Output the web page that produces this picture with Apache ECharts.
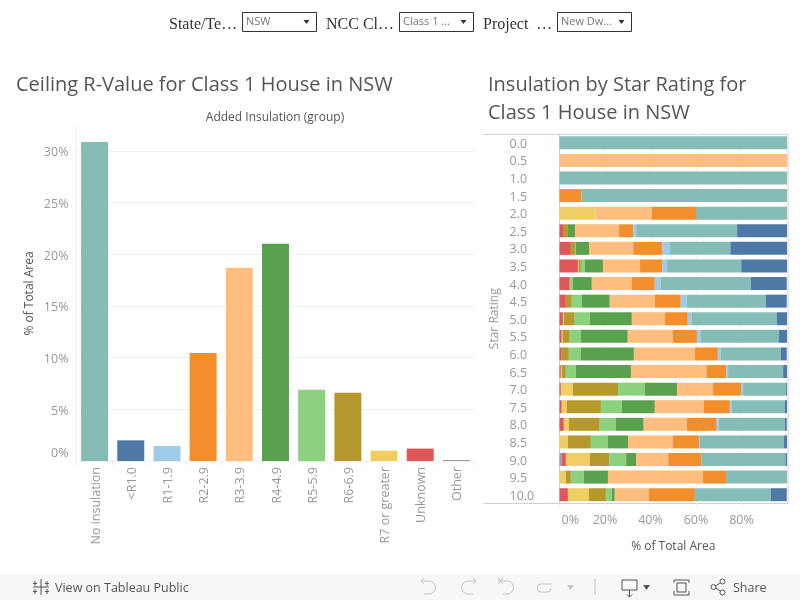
<!DOCTYPE html>
<html><head><meta charset="utf-8">
<style>html,body{margin:0;padding:0;background:#fff}#c{width:800px;height:600px}</style>
<script src="https://cdn.jsdelivr.net/npm/echarts@6/dist/echarts.min.js"></script>
</head><body><div id="c"></div>
<script>
const groups = ['No insulation','<R1.0','R1-1.9','R2-2.9','R3-3.9','R4-4.9','R5-5.9','R6-6.9','R7 or greater','Unknown','Other'];
const groupValues = [30.85,2.0,1.45,10.45,18.7,21.0,6.9,6.6,1.0,1.2,0.1];
const groupColors = ['#86BCB6','#4E79A7','#A0CBE8','#F28E2B','#FFBE7D','#59A14F','#8CD17D','#B6992D','#F1CE63','#E15759','#9D9D9D'];
const ratings = ['0.0','0.5','1.0','1.5','2.0','2.5','3.0','3.5','4.0','4.5','5.0','5.5','6.0','6.5','7.0','7.5','8.0','8.5','9.0','9.5','10.0'];
const other   = [0,0,0,0,0,0,0,0,0,0,0,0,0,0,0,0,0,0,1.0,0,0];
const unknown = [0,0,0,0,0,1.9,5.0,8.1,4.5,2.8,1.5,1.0,1.0,0.6,0.6,1.0,1.9,0,1.8,0,3.7];
const r7      = [0,0,0,0,15.8,0,0,0.3,0,0,0.4,0.4,0,0.4,5.3,2.2,2.2,3.7,10.6,2.8,9.2];
const r6      = [0,0,0,0,0,1.8,1.8,1.0,0.4,2.6,4.8,3.1,3.1,1.8,19.8,15,13.6,10.1,8.4,2.2,7.5];
const r5      = [0,0,0,0,0,0,0.3,1.8,0.9,4.4,6.6,4.8,5.3,4.4,11.9,9.2,7,7.5,7.5,5.7,2.6];
const r4      = [0,0,0,0,0,3.1,5.9,7.9,8.4,12.3,18.5,20.7,23.3,24.2,14.1,14.5,12.3,8.8,4.4,10.6,1.3];
const r3      = [0,100,0,0,24.8,19.4,19.4,16.3,17.6,19.8,14.5,19.8,26.8,33.4,15.8,21.6,18.9,19.8,14.1,41.8,15];
const r2      = [0,0,0,9.7,19.4,6.2,12.8,9.7,10.1,11.4,10.1,10.6,10.1,8.4,12.3,11.4,13.2,11.4,14.5,10.1,20.2];
const r1      = [0,0,0,0,0,1.3,3.1,2.2,2.6,2.6,1.8,1.8,1.3,0.9,0.9,0.9,0.9,0.4,0,0,0];
const noIns   = [100,0,100,90.3,40,44.4,26.8,32.6,39.6,34.8,37.4,34.3,26.4,24.2,18.9,23.3,29,37,37,26.8,33.4];
const ltR1    = [0,0,0,0,0,22,25.1,20.2,15.8,9.2,4.4,3.5,2.6,1.8,0.4,0.9,0.9,1.3,0.9,0,7];
const stack = [['Other',other,'#9D9D9D'],['Unknown',unknown,'#E15759'],['R7 or greater',r7,'#F1CE63'],['R6-6.9',r6,'#B6992D'],['R5-5.9',r5,'#8CD17D'],['R4-4.9',r4,'#59A14F'],['R3-3.9',r3,'#FFBE7D'],['R2-2.9',r2,'#F28E2B'],['R1-1.9',r1,'#A0CBE8'],['No insulation',noIns,'#86BCB6'],['<R1.0',ltR1,'#4E79A7']];

const F='"Open Sans"', LBL='#989898', HEAD='#555', GRID='#f0f0f0', RULE='#d0d0d0';
const txt=(x,y,t,size,color,family,extra)=>({type:'text',x,y,style:Object.assign({text:t,fontSize:size,fill:color,fontFamily:family||F,verticalAlign:'middle'},extra||{}),silent:true});
const line=(x1,y1,x2,y2,c,w)=>({type:'line',shape:{x1,y1,x2,y2},style:{stroke:c,lineWidth:w||1},silent:true});
const poly=(pts,c)=>({type:'polyline',shape:{points:pts},style:{stroke:c,fill:'none',lineWidth:1},silent:true});
const arc=(cx,cy,r,a,b,c)=>({type:'arc',shape:{cx,cy,r,startAngle:a,endAngle:b,clockwise:true},style:{stroke:c,fill:'none',lineWidth:1},silent:true});
const ring=(cx,cy,r,c)=>({type:'circle',shape:{cx,cy,r},style:{stroke:c,fill:'#f7f7f7',lineWidth:1},silent:true,z:2});
const dropdown=(x,w,t)=>[
  {type:'rect',shape:{x:x+.5,y:12.5,width:w,height:19},style:{fill:'#fff',stroke:'#333',lineWidth:1},silent:true},
  txt(x+4,22,t,11,'#777'),
  {type:'polygon',shape:{points:[[x+w-12.5,20],[x+w-6.5,20],[x+w-9.5,24]]},style:{fill:'#333'},silent:true}
];
const G='#c4c4c4', D='#555', H=Math.PI/2;
const gfx=[
  txt(169,25,'State/Te…',16,'#333','"Liberation Serif"'),
  txt(326,25,'NCC Cl…',16,'#333','"Liberation Serif"'),
  txt(483,25,'Project  …',16,'#333','"Liberation Serif"'),
  ...dropdown(242,74,'NSW'),...dropdown(399,74,'Class 1 ...'),...dropdown(557,74,'New Dw...'),
  txt(16,85,'Ceiling R-Value for Class 1 House in NSW',20,HEAD),
  txt(488,85,'Insulation by Star Rating for',20,HEAD),
  txt(488,113,'Class 1 House in NSW',20,HEAD),
  txt(275,118,'Added Insulation (group)',12,HEAD,F,{align:'center'}),
  line(483,134.5,788,134.5,RULE),
  line(483,503.5,788,503.5,RULE),
  line(788,134,788,503,RULE),
  {type:'rect',z:-1,shape:{x:0,y:574,width:800,height:26},style:{fill:'#f7f7f7'},silent:true},
  line(41,579,41,595,D),line(33,587,49,587,D),line(35,581,35,586,D),line(33,583.5,37,583.5,D),
  line(47,581,47,586,D),line(45,583.5,49,583.5,D),line(35,589,35,594,D),line(33,591.5,37,591.5,D),
  line(47,589,47,594,D),line(45,591.5,49,591.5,D),
  txt(55,588,'View on Tableau Public',12.5,D),
  poly([[424,578],[421,581],[424,584]],G),poly([[421,581],[429,581]],G),arc(429,587.5,6.5,-H,H,G),poly([[429,594],[424,594]],G),
  poly([[473,578],[476,581],[473,584]],G),poly([[476,581],[468,581]],G),arc(468,587.5,6.5,H,3*H,G),poly([[468,594],[473,594]],G),
  poly([[503,578],[500,581],[503,584]],G),poly([[500,581],[507,581]],G),arc(507,587.5,6.5,-H,H,G),poly([[507,594],[503,594]],G),line(499,578,499,584,G),
  poly([[552,584],[541,584]],G),arc(541,588,4,H,3*H,G),poly([[541,592],[547,592]],G),arc(547,588,4,0,H,G),
  {type:'polygon',shape:{points:[[567,585],[574,585],[570.5,590]]},style:{fill:G},silent:true},
  line(595,579,595,595,G),
  poly([[622,580],[637,580],[637,590],[622,590],[622,580]],D),line(629.5,590,629.5,597,D),poly([[627,594.5],[629.5,597],[632,594.5]],D),
  {type:'polygon',shape:{points:[[643,585],[650,585],[646.5,590]]},style:{fill:D},silent:true},
  poly([[674,583],[674,580],[689,580],[689,583]],D),poly([[674,591],[674,595],[689,595],[689,591]],D),
  poly([[677,583],[686,583],[686,592],[677,592],[677,583]],D),
  line(714,587,722,582,D),line(714,587,722,592,D),ring(713.5,587,2.5,D),ring(722.5,581.5,2.5,D),ring(722.5,592.5,2.5,D),
  txt(733,588,'Share',12.5,D)
];

const chart=echarts.init(document.getElementById('c'),null,{renderer:'canvas'});
chart.setOption({
  animation:false,
  backgroundColor:'#fff',
  grid:[
    {left:76.5,top:126,width:398,height:335,containLabel:false},
    {left:559.5,top:134,width:227.5,height:369.5,containLabel:false}
  ],
  xAxis:[
    {gridIndex:0,type:'category',data:groups,
     axisLine:{lineStyle:{color:GRID}},axisTick:{show:true,lineStyle:{color:GRID},length:5},
     axisLabel:{rotate:90,interval:0,color:LBL,fontFamily:F,fontSize:12.5,margin:6,verticalAlign:'top',lineHeight:3}},
    {gridIndex:1,type:'value',min:0,max:100,interval:20,
     name:'% of Total Area',nameLocation:'middle',nameGap:37,nameTextStyle:{color:HEAD,fontFamily:F,fontSize:12},
     axisLine:{show:false},axisTick:{show:true,lineStyle:{color:GRID},length:4},
     splitLine:{show:true,lineStyle:{color:GRID},showMinLine:false,showMaxLine:false},
     axisLabel:{color:LBL,fontFamily:F,fontSize:12.5,margin:10,
       formatter:v=>v===0?'{m|0%}':v+'%',
       rich:{m:{color:LBL,fontFamily:F,fontSize:12.5,padding:[0,0,0,2]}},
       showMaxLabel:false,alignMinLabel:'left'}}
  ],
  yAxis:[
    {gridIndex:0,type:'value',min:0,max:32.4,interval:5,
     name:'% of Total Area',nameLocation:'middle',nameGap:41,nameTextStyle:{color:HEAD,fontFamily:F,fontSize:12},
     axisLine:{show:true,lineStyle:{color:GRID}},axisTick:{show:false},
     splitLine:{show:true,lineStyle:{color:GRID},showMaxLine:false},
     axisLabel:{color:LBL,fontFamily:F,fontSize:12.5,margin:8,
       verticalAlign:'top',lineHeight:4,
       formatter:v=>v===0?'{z|0%}':v+'%',
       rich:{z:{color:LBL,fontFamily:F,fontSize:12.5,lineHeight:16}},
       showMaxLabel:false,verticalAlignMinLabel:'bottom'}},
    {gridIndex:1,type:'category',inverse:true,data:ratings,
     name:'Star Rating',nameLocation:'middle',nameGap:59,nameTextStyle:{color:LBL,fontFamily:F,fontSize:12},
     axisLine:{show:true,lineStyle:{color:RULE}},axisTick:{show:false},
     axisLabel:{interval:0,color:LBL,fontFamily:F,fontSize:12.5,margin:50,align:'left',verticalAlign:'top',lineHeight:3}}
  ],
  series:[
    {type:'bar',xAxisIndex:0,yAxisIndex:0,barWidth:27,
     data:groupValues.map((v,i)=>({value:v,itemStyle:{color:groupColors[i]}}))},
    ...stack.map(([name,data,color])=>({type:'bar',name,xAxisIndex:1,yAxisIndex:1,stack:'s',barWidth:13,data,itemStyle:{color}}))
  ],
  graphic:{elements:gfx}
});
</script></body></html>
